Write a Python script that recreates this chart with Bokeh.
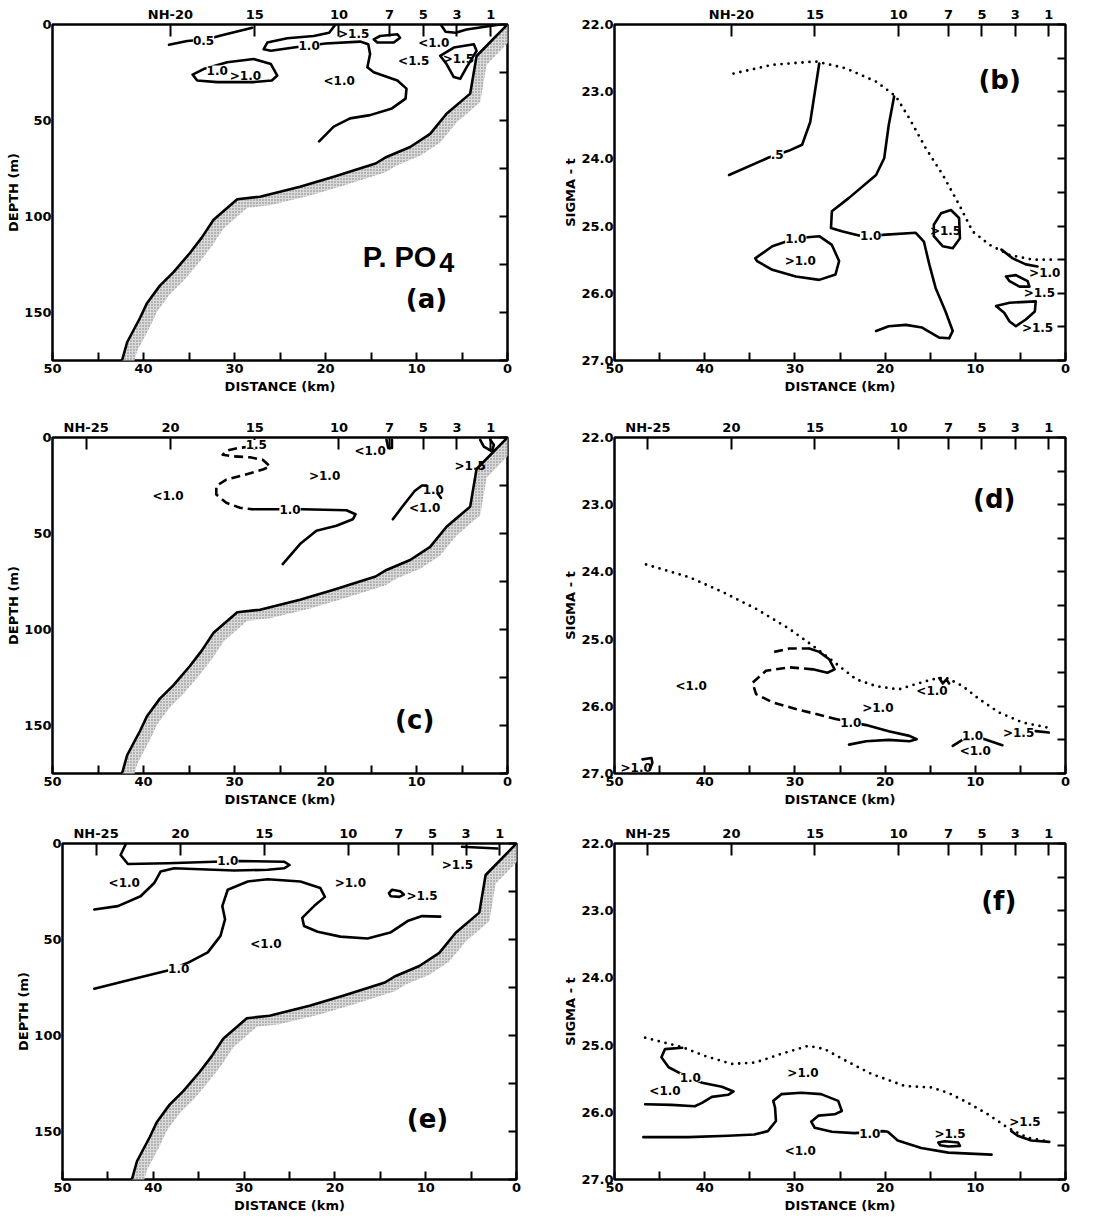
from bokeh.plotting import figure
from bokeh.models import Range1d, LinearAxis, FixedTicker, ColumnDataSource, LabelSet
from bokeh.layouts import row, column
from bokeh.embed import file_html
from bokeh.resources import INLINE
from bokeh.core.properties import value

FONT = "DejaVu Sans"

# ---------------- stations (km offshore) ----------------
stations_20 = [37.04, 27.78, 18.52, 12.96, 9.26, 5.56, 1.85]
station_names_20 = ["NH-20", "15", "10", "7", "5", "3", "1"]
stations_25 = [46.3, 37.04, 27.78, 18.52, 12.96, 9.26, 5.56, 1.85]
station_names_25 = ["NH-25", "20", "15", "10", "7", "5", "3", "1"]

# ---------------- bathymetry ----------------
bottom_km = [0, 3.4, 4.1, 6.7, 8.5, 10.7, 13.3, 14.5, 19.1, 22.8, 27.2, 29.7, 32.3, 33.6, 34.9, 36.7, 38.2, 39.6, 40.4, 41.8, 42.3, 42.5]
bottom_m = [0, 16.4, 36, 46.5, 57, 63.8, 69, 72.4, 79.3, 84.5, 89.7, 91, 101.7, 111, 119, 129, 136, 145, 153, 165.5, 174, 176]

# ---------------- panel (a) ----------------
a_c05_km = [37.2, 35.2, 33.0, 31.5, 28.05]
a_c05_m = [10.6, 8.6, 7.7, 5.7, 1.7]
a_c10_km = [18.9, 19.6, 21.3, 24.2, 26.4, 26.8, 26.0, 23.5, 20.0, 16.2, 15.3, 15.1, 15.4, 14.7, 12.1, 11.1, 11.2, 12.7, 15.1, 17.3, 19.1, 20.7]
a_c10_m = [0.0, 4.3, 6.0, 7.2, 9.4, 12.9, 13.7, 12.0, 9.9, 8.9, 10.3, 15.4, 22.3, 24.9, 29.2, 33.4, 38.6, 43.7, 47.2, 48.9, 53.2, 60.9]
a_loop_km = [34.6, 33.4, 30.8, 27.9, 26.0, 25.3, 25.9, 27.9, 31.9, 34.1, 34.6]
a_loop_m = [26.1, 23.2, 19.7, 18.0, 20.6, 26.6, 29.2, 30.0, 30.0, 29.2, 26.1]
a_p15a_km = [14.7, 14.0, 12.1, 11.8, 12.5, 14.3, 14.7]
a_p15a_m = [7.7, 6.0, 5.1, 6.9, 9.4, 9.4, 7.7]
a_top_km = [7.3, 6.8, 5.7, 4.5, 2.3, 0.8]
a_top_m = [0.3, 3.8, 4.3, 2.6, 1.0, 0.0]
a_p15b_km = [7.4, 5.9, 3.7, 3.4, 4.5, 5.2, 5.9, 6.7, 7.4]
a_p15b_m = [16.3, 12.0, 10.3, 13.7, 22.3, 28.3, 27.4, 20.6, 16.3]
a_onl_km = [33.4, 21.8, 31.9]
a_onl_m = [8.2, 11.1, 23.7]
a_onl_txt = ["0.5", "1.0", "1.0"]
a_reg_km = [28.8, 16.9, 8.1, 5.4, 10.3, 18.5]
a_reg_m = [26.6, 5.1, 9.4, 18.0, 18.9, 29.2]
a_reg_txt = [">1.0", ">1.5", "<1.0", ">1.5", "<1.5", "<1.0"]

# ---------------- panel (b) ----------------
b_dots_km = [36.8, 32.5, 27.7, 24.4, 21.0, 18.8, 17.3, 15.5, 13.6, 11.8, 10.3, 8.4, 6.2, 3.6, 1.4]
b_dots_s = [22.73, 22.60, 22.55, 22.65, 22.85, 23.07, 23.40, 23.84, 24.24, 24.68, 25.08, 25.28, 25.43, 25.50, 25.50]
b_c05_km = [37.3, 32.9, 30.7, 29.2, 28.3, 27.3]
b_c05_s = [24.24, 23.98, 23.88, 23.79, 23.45, 22.58]
b_c10_km = [19.0, 19.6, 20.1, 21.0, 24.0, 25.9, 26.0, 24.7, 22.9, 20.3, 16.6, 15.7, 15.1, 14.4, 13.3, 12.5, 12.9, 14.0, 15.9, 17.7, 19.6, 21.0]
b_c10_s = [23.07, 23.50, 23.99, 24.24, 24.58, 24.78, 25.03, 25.08, 25.14, 25.13, 25.10, 25.23, 25.57, 25.92, 26.27, 26.56, 26.67, 26.66, 26.51, 26.47, 26.49, 26.56]
b_loop_km = [34.4, 32.5, 29.9, 27.3, 25.9, 25.1, 25.5, 27.3, 29.9, 32.5, 34.2, 34.4]
b_loop_s = [25.48, 25.30, 25.18, 25.15, 25.28, 25.52, 25.72, 25.80, 25.75, 25.65, 25.52, 25.48]
b_p15_km = [14.6, 13.8, 12.7, 11.8, 11.7, 12.5, 13.6, 14.6, 14.6]
b_p15_s = [24.98, 24.81, 24.76, 24.88, 25.18, 25.33, 25.30, 25.15, 24.98]
b_shore_km = [7.1, 5.85, 4.4, 3.1]
b_shore_s = [25.35, 25.48, 25.57, 25.60]
b_sm1_km = [6.6, 5.5, 4.2, 4.0, 5.1, 6.2, 6.6]
b_sm1_s = [25.75, 25.73, 25.82, 25.90, 25.90, 25.82, 25.75]
b_sm2_km = [7.7, 6.2, 3.3, 3.4, 4.4, 5.5, 6.2, 6.8, 7.7]
b_sm2_s = [26.19, 26.14, 26.12, 26.27, 26.39, 26.49, 26.42, 26.29, 26.19]
b_onl_km = [31.96, 21.6, 29.9]
b_onl_s = [23.94, 25.14, 25.19]
b_onl_txt = [".5", "1.0", "1.0"]
b_reg_km = [29.4, 13.3, 2.3, 2.9, 3.1]
b_reg_s = [25.52, 25.08, 25.70, 26.00, 26.51]
b_reg_txt = [">1.0", ">1.5", ">1.0", ">1.5", ">1.5"]

# ---------------- panel (c) ----------------
c_dash_km = [28.2, 29.6, 30.9, 31.3, 30.2, 28.3, 26.9, 26.1, 26.9, 29.1, 30.9, 32.0, 32.0, 30.9, 29.4, 28.0]
c_dash_m = [4.7, 5.5, 6.9, 9.0, 9.8, 10.3, 11.6, 15.0, 16.7, 19.7, 21.9, 25.3, 29.7, 34.0, 36.6, 37.4]
c_solid_km = [28.0, 22.5, 17.7, 16.7, 17.0, 18.8, 21.0, 22.8, 24.7]
c_solid_m = [37.4, 37.4, 37.9, 40.0, 42.6, 46.0, 48.6, 55.5, 65.9]
c_tiny_km = [13.3, 13.1, 12.7, 12.7]
c_tiny_m = [1.2, 5.5, 5.5, 1.2]
c_c10b_km = [12.6, 11.5, 10.2, 9.4, 8.9]
c_c10b_m = [42.6, 35.7, 27.9, 25.0, 25.0]
c_tail_km = [7.7, 7.3]
c_tail_m = [29.0, 31.5]
c_shore_km = [3.0, 2.6, 1.7, 1.5, 1.9]
c_shore_m = [1.2, 4.7, 7.2, 3.8, 1.2]
c_onl_km = [27.6, 23.9]
c_onl_m = [3.6, 37.4]
c_onl_txt = ["1.5", "1.0"]
c_reg_km = [15.1, 20.1, 37.3, 8.15, 9.1, 4.1]
c_reg_m = [7.2, 20.2, 30.5, 27.1, 36.6, 15.0]
c_reg_txt = ["<1.0", ">1.0", "<1.0", "1.0", "<1.0", ">1.5"]

# ---------------- panel (d) ----------------
d_dots_km = [46.5, 41.7, 38.0, 34.3, 30.6, 28.0, 25.1, 23.2, 21.0, 18.5, 16.6, 14.8, 13.3, 11.4, 9.6, 7.4, 4.8, 2.95, 1.85]
d_dots_s = [23.89, 24.08, 24.30, 24.55, 24.85, 25.10, 25.40, 25.60, 25.70, 25.75, 25.67, 25.60, 25.57, 25.70, 25.89, 26.09, 26.24, 26.29, 26.32]
d_dash1_km = [32.3, 30.6, 28.4]
d_dash1_s = [25.19, 25.14, 25.14]
d_hook_km = [28.4, 27.3, 26.2, 25.6, 26.4, 28.0]
d_hook_s = [25.14, 25.19, 25.30, 25.45, 25.50, 25.45]
d_dash2_km = [28.0, 30.6, 33.2, 34.7, 34.3, 32.5, 29.9, 26.9, 25.5]
d_dash2_s = [25.45, 25.42, 25.47, 25.65, 25.82, 25.94, 26.04, 26.14, 26.19]
d_solid_km = [25.5, 22.1, 19.6, 17.3, 16.5, 17.3, 19.6, 22.1, 24.0]
d_solid_s = [26.19, 26.28, 26.37, 26.44, 26.49, 26.52, 26.50, 26.52, 26.57]
d_c10b_km = [12.5, 11.3, 9.2, 7.0]
d_c10b_s = [26.59, 26.49, 26.48, 26.58]
d_shore_km = [3.3, 1.85]
d_shore_s = [26.37, 26.39]
d_corner_km = [46.9, 45.9, 45.8, 46.1]
d_corner_s = [26.79, 26.77, 26.84, 26.94]
d_squig_km = [14.0, 13.6, 13.2, 12.9]
d_squig_s = [25.58, 25.66, 25.60, 25.66]
d_onl_km = [23.8, 10.3]
d_onl_s = [26.24, 26.44]
d_onl_txt = ["1.0", "1.0"]
d_reg_km = [41.5, 20.8, 14.8, 5.2, 10.0, 47.6]
d_reg_s = [25.70, 26.02, 25.77, 26.39, 26.67, 26.92]
d_reg_txt = ["<1.0", ">1.0", "<1.0", ">1.5", "<1.0", ">1.0"]

# ---------------- panel (e) ----------------
e_c10a_km = [43.0, 43.6, 42.8, 38.4, 33.3, 30.4, 25.6, 25.0, 25.6, 27.4, 31.1, 34.8, 37.7, 39.2, 39.9, 41.4, 43.9, 46.5]
e_c10a_m = [0.0, 6.0, 10.7, 10.3, 9.5, 9.1, 9.5, 11.2, 12.9, 13.7, 14.1, 13.4, 12.9, 14.6, 20.6, 27.5, 32.6, 34.4]
e_c10b_km = [46.5, 42.1, 38.4, 36.1, 34.0, 32.6, 32.1, 32.4, 31.8, 29.6, 27.4, 23.8, 21.6, 21.1, 22.3, 23.6, 23.4, 21.9, 19.4, 16.4, 13.9, 12.0, 10.4, 8.4]
e_c10b_m = [75.6, 70.4, 66.2, 61.9, 56.7, 48.1, 39.5, 32.6, 24.1, 19.8, 18.6, 19.8, 23.2, 27.8, 32.6, 38.7, 43.0, 46.0, 48.5, 49.5, 46.4, 40.4, 37.8, 38.1]
e_p15_km = [14.05, 13.7, 12.8, 12.4, 12.9, 13.85, 14.05]
e_p15_m = [25.8, 24.1, 24.9, 26.6, 27.8, 27.5, 25.8]
e_shore_km = [6.0, 2.1]
e_shore_m = [1.7, 2.6]
e_onl_km = [31.8, 37.2]
e_onl_m = [9.1, 65.3]
e_onl_txt = ["1.0", "1.0"]
e_reg_km = [43.2, 18.3, 27.6, 10.4, 6.5]
e_reg_m = [20.6, 20.6, 52.4, 27.5, 11.2]
e_reg_txt = ["<1.0", ">1.0", "<1.0", ">1.5", ">1.5"]

# ---------------- panel (f) ----------------
f_dots_km = [46.6, 42.5, 40.0, 37.0, 34.4, 31.5, 28.5, 26.7, 24.4, 21.5, 17.8, 14.9, 13.0, 10.8, 8.6, 6.4, 4.2, 1.96]
f_dots_s = [24.89, 25.03, 25.16, 25.28, 25.26, 25.13, 25.01, 25.06, 25.23, 25.43, 25.61, 25.63, 25.71, 25.86, 26.03, 26.23, 26.38, 26.43]
f_c10a_km = [42.5, 44.4, 44.8, 44.0, 42.7, 40.3, 38.1, 36.8, 37.4, 39.2, 40.3, 41.1, 43.7, 46.6]
f_c10a_s = [25.04, 25.06, 25.18, 25.33, 25.42, 25.56, 25.62, 25.69, 25.74, 25.77, 25.86, 25.91, 25.89, 25.88]
f_c10b_km = [46.8, 41.8, 37.4, 34.5, 33.0, 32.1, 32.2, 32.4, 31.5, 29.3, 27.1, 25.2, 24.8, 25.6, 27.4, 28.2, 27.8, 25.9, 23.4, 20.2, 19.7, 18.6, 16.0, 13.0, 8.2]
f_c10b_s = [26.37, 26.37, 26.35, 26.33, 26.28, 26.13, 25.93, 25.83, 25.73, 25.71, 25.73, 25.83, 25.98, 26.03, 26.05, 26.14, 26.23, 26.29, 26.31, 26.28, 26.29, 26.42, 26.53, 26.60, 26.63]
f_p15_km = [14.1, 13.4, 11.9, 11.7, 13.0, 13.9, 14.1]
f_p15_s = [26.45, 26.43, 26.45, 26.50, 26.51, 26.49, 26.45]
f_shore_km = [6.0, 5.3, 3.8, 1.8]
f_shore_s = [26.28, 26.35, 26.42, 26.44]
f_onl_km = [41.6, 21.7]
f_onl_s = [25.48, 26.31]
f_onl_txt = ["1.0", "1.0"]
f_reg_km = [29.1, 44.4, 29.4, 12.8, 4.5]
f_reg_s = [25.41, 25.68, 26.58, 26.33, 26.15]
f_reg_txt = [">1.0", "<1.0", "<1.0", ">1.5", ">1.5"]

# panel letters
letters = ["(a)", "(b)", "(c)", "(d)", "(e)", "(f)"]
letter_km = [8.9, 7.3, 10.2, 7.9, 9.8, 7.4]
letter_y = [143.0, 22.83, 146.9, 22.91, 143.5, 22.85]


def base_fig(kind, st_x, st_lab, ml, fw, mr, mt, mb):
    if kind == "depth":
        yr = Range1d(175, 0)
        yt = list(range(0, 176, 25))
        ylabels = {t: (str(t) if t % 50 == 0 else "") for t in yt}
        ylab = "DEPTH (m)"
    else:
        yr = Range1d(27, 22)
        yt = [22 + 0.5 * i for i in range(11)]
        ylabels = {t: (f"{t:.1f}" if t == int(t) else "") for t in yt}
        ylab = "SIGMA - t"
    p = figure(frame_width=fw, frame_height=336, x_range=Range1d(50, 0), y_range=yr,
               output_backend="svg", toolbar_location=None, tools="",
               min_border_left=ml, min_border_right=mr, min_border_top=mt, min_border_bottom=mb)
    p.grid.visible = False
    p.outline_line_color = "black"
    p.outline_line_width = 2.5
    p.background_fill_color = "white"
    p.border_fill_color = "white"

    xt = list(range(0, 51, 5))
    xa = p.xaxis[0]
    xa.ticker = FixedTicker(ticks=xt)
    xa.major_label_overrides = {t: (str(t) if t % 10 == 0 else "") for t in xt}
    xa.major_tick_in = 8
    xa.major_tick_out = 0
    xa.major_tick_line_width = 2
    xa.minor_tick_line_color = None
    xa.axis_line_color = None
    xa.axis_label = "DISTANCE (km)"
    xa.major_label_standoff = 3
    xa.axis_label_standoff = 3

    ya = p.yaxis[0]
    ya.ticker = FixedTicker(ticks=yt)
    ya.major_label_overrides = ylabels
    ya.major_tick_in = 0
    ya.major_tick_out = 0
    ya.minor_tick_line_color = None
    ya.axis_line_color = None
    ya.axis_label = ylab
    ya.major_label_standoff = 1
    ya.axis_label_standoff = 0

    ra = LinearAxis(ticker=FixedTicker(ticks=yt), major_label_overrides={t: "" for t in yt},
                    major_tick_in=8, major_tick_out=0, major_tick_line_width=2,
                    minor_tick_line_color=None, axis_line_color=None,
                    major_label_text_font_size="1px")
    p.add_layout(ra, "right")

    ta = LinearAxis(ticker=FixedTicker(ticks=st_x), major_label_overrides=dict(zip(st_x, st_lab)),
                    major_tick_in=12, major_tick_out=0, major_tick_line_width=2,
                    minor_tick_line_color=None, axis_line_color=None, major_label_standoff=3)
    p.add_layout(ta, "above")

    for ax in (xa, ya, ta):
        ax.major_label_text_font = FONT
        ax.major_label_text_font_style = "bold"
        ax.major_label_text_font_size = "13px"
        ax.major_label_text_color = "black"
    for ax in (xa, ya):
        ax.axis_label_text_font = FONT
        ax.axis_label_text_font_style = "bold"
        ax.axis_label_text_font_size = "13px"
        ax.axis_label_text_color = "black"
    return p


def add_bottom(p):
    bx = list(bottom_km) + [k - 1.1 for k in reversed(bottom_km)]
    by = list(bottom_m) + [m + 4.5 for m in reversed(bottom_m)]
    p.patch(bx, by, fill_color="#dadada", line_color=None,
            hatch_pattern="dot", hatch_color="#777777", hatch_scale=3, hatch_weight=1)
    p.line(bottom_km, bottom_m, line_width=2.6, color="black", line_join="round")


def solid(p, x, y):
    p.line(x, y, line_width=2.6, color="black", line_join="round", line_cap="round")


def dashed(p, x, y):
    p.line(x, y, line_width=2.6, color="black", line_dash="9 5", line_join="round")


def dotted(p, x, y):
    p.line(x, y, line_width=2.8, color="black", line_dash="0 7", line_cap="round")


def labels(p, x, y, txt, boxed, size="12px"):
    src = ColumnDataSource(dict(x=x, y=y, text=txt))
    ls = LabelSet(x="x", y="y", text="text", source=src, text_align="center",
                  text_baseline="middle", text_font=value(FONT), text_font_style="bold",
                  text_font_size=size, text_color="black",
                  background_fill_color="white" if boxed else None)
    p.add_layout(ls)


def letter(p, i):
    p.text(x=[letter_km[i]], y=[letter_y[i]], text=[letters[i]], text_font=value(FONT),
           text_font_style="bold", text_font_size="26px", text_align="center",
           text_baseline="middle", text_color="black")


# ---------- (a) ----------
pa = base_fig("depth", stations_20, station_names_20, 52, 455, 53, 24, 40)
add_bottom(pa)
for x, y in [(a_c05_km, a_c05_m), (a_c10_km, a_c10_m), (a_loop_km, a_loop_m),
             (a_p15a_km, a_p15a_m), (a_top_km, a_top_m), (a_p15b_km, a_p15b_m)]:
    solid(pa, x, y)
labels(pa, a_onl_km, a_onl_m, a_onl_txt, True)
labels(pa, a_reg_km, a_reg_m, a_reg_txt, False)
pa.text(x=[15.9], y=[121.0], text=["P. PO"], text_font=value("Liberation Sans"), text_font_style="bold",
        text_font_size="29px", text_align="left", text_baseline="middle", text_color="black")
pa.text(x=[7.5], y=[124.0], text=["4"], text_font=value("Liberation Sans"), text_font_style="bold",
        text_font_size="27px", text_align="left", text_baseline="middle", text_color="black")
letter(pa, 0)

# ---------- (b) ----------
pb = base_fig("sigma", stations_20, station_names_20, 54, 451, 54, 24, 40)
dotted(pb, b_dots_km, b_dots_s)
for x, y in [(b_c05_km, b_c05_s), (b_c10_km, b_c10_s), (b_loop_km, b_loop_s), (b_p15_km, b_p15_s),
             (b_shore_km, b_shore_s), (b_sm1_km, b_sm1_s), (b_sm2_km, b_sm2_s)]:
    solid(pb, x, y)
labels(pb, b_onl_km, b_onl_s, b_onl_txt, True)
labels(pb, b_reg_km, b_reg_s, b_reg_txt, False)
letter(pb, 1)

# ---------- (c) ----------
pc = base_fig("depth", stations_25, station_names_25, 52, 455, 53, 37, 40)
add_bottom(pc)
dashed(pc, c_dash_km, c_dash_m)
for x, y in [(c_solid_km, c_solid_m), (c_tiny_km, c_tiny_m), (c_c10b_km, c_c10b_m),
             (c_tail_km, c_tail_m), (c_shore_km, c_shore_m)]:
    solid(pc, x, y)
labels(pc, c_onl_km, c_onl_m, c_onl_txt, True)
labels(pc, c_reg_km, c_reg_m, c_reg_txt, False)
letter(pc, 2)

# ---------- (d) ----------
pd_ = base_fig("sigma", stations_25, station_names_25, 54, 451, 54, 37, 40)
dotted(pd_, d_dots_km, d_dots_s)
dashed(pd_, d_dash1_km, d_dash1_s)
dashed(pd_, d_dash2_km, d_dash2_s)
for x, y in [(d_hook_km, d_hook_s), (d_solid_km, d_solid_s), (d_c10b_km, d_c10b_s),
             (d_shore_km, d_shore_s), (d_corner_km, d_corner_s), (d_squig_km, d_squig_s)]:
    solid(pd_, x, y)
labels(pd_, d_onl_km, d_onl_s, d_onl_txt, True)
labels(pd_, d_reg_km, d_reg_s, d_reg_txt, False)
letter(pd_, 3)

# ---------- (e) ----------
pe = base_fig("depth", stations_25, station_names_25, 62, 454, 44, 30, 40)
add_bottom(pe)
for x, y in [(e_c10a_km, e_c10a_m), (e_c10b_km, e_c10b_m), (e_p15_km, e_p15_m), (e_shore_km, e_shore_m)]:
    solid(pe, x, y)
labels(pe, e_onl_km, e_onl_m, e_onl_txt, True)
labels(pe, e_reg_km, e_reg_m, e_reg_txt, False)
letter(pe, 4)

# ---------- (f) ----------
pf = base_fig("sigma", stations_25, station_names_25, 54, 451, 54, 30, 40)
dotted(pf, f_dots_km, f_dots_s)
for x, y in [(f_c10a_km, f_c10a_s), (f_c10b_km, f_c10b_s), (f_p15_km, f_p15_s), (f_shore_km, f_shore_s)]:
    solid(pf, x, y)
labels(pf, f_onl_km, f_onl_s, f_onl_txt, True)
labels(pf, f_reg_km, f_reg_s, f_reg_txt, False)
letter(pf, 5)

layout = column(row(pa, pb), row(pc, pd_), row(pe, pf))
open("out.html", "w").write(file_html(layout, INLINE, title="P. PO4 sections"))
